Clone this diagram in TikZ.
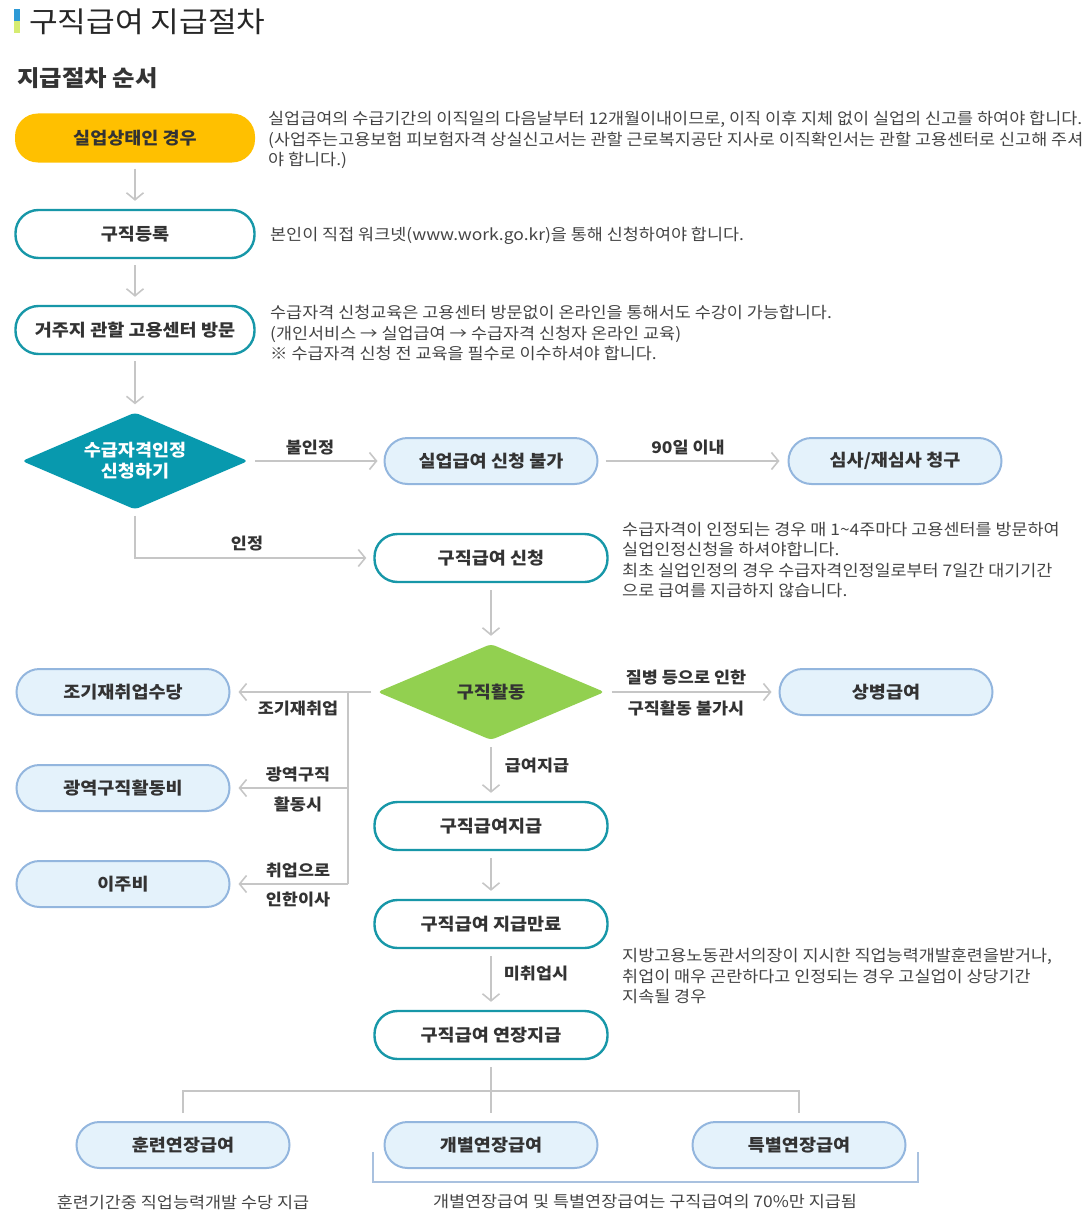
\documentclass[tikz,border=0pt]{standalone}
\usepackage{fontspec}
\setmainfont{Noto Sans CJK KR}[FakeStretch=1.09]
\usetikzlibrary{arrows.meta,shapes.geometric}
\definecolor{teal1}{HTML}{1797A8}
\definecolor{tealfill}{HTML}{0899AE}
\definecolor{yel}{HTML}{FFC000}
\definecolor{lbfill}{HTML}{E4F2FB}
\definecolor{lbdraw}{HTML}{93B6DE}
\definecolor{grn}{HTML}{92D050}
\definecolor{arr}{HTML}{C6C6C6}
\definecolor{txt}{HTML}{333333}
\definecolor{notec}{HTML}{444444}
\definecolor{barblue}{HTML}{2E9AD6}
\definecolor{bargreen}{HTML}{D6EC72}
\definecolor{brk}{HTML}{A9C1DF}
\begin{document}
\begin{tikzpicture}[x=1pt,y=-1pt,
  pill/.style={rectangle, rounded corners=23pt, minimum width=239pt, minimum height=48pt, inner sep=0pt, font=\fontsize{17}{20}\selectfont\bfseries, text=txt},
  wpill/.style={pill, draw=teal1, line width=2.4pt, fill=white},
  bpill/.style={pill, draw=lbdraw, line width=2pt, fill=lbfill, minimum width=213pt, minimum height=46pt},
  dia/.style={diamond, aspect=2.33, rounded corners=4pt, inner sep=0pt, minimum width=226pt, minimum height=97pt, align=center, font=\fontsize{17}{21}\selectfont\bfseries},
  gline/.style={draw=arr, line width=2pt},
  flow/.style={gline, -{Straight Barb[length=7pt,width=17pt,line width=1.6pt]}},
  notetext/.style={font=\fontsize{16}{20.5}\selectfont, text=notec, align=left, inner sep=0pt, anchor=west},
  elab/.style={font=\fontsize{16}{20}\selectfont\bfseries, text=txt, inner sep=0pt},
  captxt/.style={font=\fontsize{16}{20}\selectfont, text=notec, inner sep=0pt}
]
\useasboundingbox (0,0) rectangle (1083,1228);
% title
\fill[barblue] (14,9) rectangle (20,21);
\fill[bargreen] (14,21) rectangle (20,33);
\node[anchor=west, inner sep=0pt, font=\fontsize{28.6}{32}\selectfont, text=black!85] (title) at (29,22) {구직급여 지급절차};
\node[anchor=west, inner sep=0pt, font=\fontsize{22.4}{26}\selectfont\bfseries, text=txt] (sub) at (17,78) {지급절차 순서};

% main column
\node[pill, fill=yel, minimum width=240pt, minimum height=49pt] (n1) at (135,138) {실업상태인 경우};
\node[wpill] (n2) at (135,234) {구직등록};
\node[wpill] (n3) at (135,330) {거주지 관할 고용센터 방문};
\node[dia, fill=tealfill, text=white] (d1) at (135,461) {수급자격인정\\신청하기};
\node[bpill] (n4) at (491,461) {실업급여 신청 불가};
\node[bpill] (n5) at (895,461) {심사/재심사 청구};
\node[wpill, minimum width=233pt] (n6) at (491,558) {구직급여 신청};
\node[dia, fill=grn, text=txt, minimum width=227pt, minimum height=96pt] (d2) at (491,692) {구직활동};
\node[bpill] (n7) at (886,692) {상병급여};
\node[bpill] (n8) at (123,692) {조기재취업수당};
\node[bpill] (n9) at (123,788) {광역구직활동비};
\node[bpill] (n10) at (123,884) {이주비};
\node[wpill, minimum width=233pt] (n11) at (491,826) {구직급여지급};
\node[wpill, minimum width=233pt] (n12) at (491,924) {구직급여 지급만료};
\node[wpill, minimum width=233pt] (n13) at (491,1035) {구직급여 연장지급};
\node[bpill] (n14) at (183,1145) {훈련연장급여};
\node[bpill] (n15) at (491,1145) {개별연장급여};
\node[bpill] (n16) at (799,1145) {특별연장급여};

% connectors
\draw[flow, shorten <=6pt, shorten >=8pt] (n1) -- (n2);
\draw[flow, shorten <=6pt, shorten >=8pt] (n2) -- (n3);
\draw[flow, shorten <=6pt, shorten >=8pt] (n3) -- (d1);
\draw[flow, shorten <=7pt, shorten >=6pt] (d1) -- (n4);
\draw[flow, shorten <=7pt, shorten >=8pt] (n4) -- (n5);
\draw[flow, shorten >=7pt] ([yshift=-6pt]d1.south) |- (n6.west);
\draw[flow, shorten <=7pt, shorten >=8pt] (n6) -- (d2);
\draw[flow, shorten <=7pt, shorten >=7pt] (d2) -- (n7);
\coordinate (j) at (348,692);
\draw[flow, shorten >=8pt] ([xshift=-6pt]d2.west) -- (n8.east);
\draw[gline] (j) -- (j |- n10);
\draw[flow, shorten >=8pt] (j |- n9) -- (n9.east);
\draw[flow, shorten >=8pt] (j |- n10) -- (n10.east);
\draw[flow, shorten <=7pt, shorten >=8pt] (d2) -- (n11);
\draw[flow, shorten <=7pt, shorten >=8pt] (n11) -- (n12);
\draw[flow, shorten <=7pt, shorten >=8pt] (n12) -- (n13);
\coordinate (tb) at (491,1091);
\draw[gline] ([yshift=-7pt]n13.south) -- ([yshift=8pt]n15.north);
\draw[gline] ([yshift=8pt]n14.north) |- (tb) -| ([yshift=8pt]n16.north);
\draw[brk, line width=1.2pt] (373,1152) |- (918,1182) -- (918,1152);

% edge labels
\node[elab] (l1) at (310,448) {불인정};
\node[elab] (l2) at (688,448) {90일 이내};
\node[elab] (l3) at (247,544) {인정};
\node[elab] (l4) at (686,678) {질병 등으로 인한};
\node[elab] (l5) at (686,708) {구직활동 불가시};
\node[elab] (l6) at (298,708) {조기재취업};
\node[elab] (l7) at (298,774) {광역구직};
\node[elab] (l8) at (298,804) {활동시};
\node[elab] (l9) at (298,870) {취업으로};
\node[elab] (l10) at (298,900) {인한이사};
\node[elab] (l11) at (537,766) {급여지급};
\node[elab] (l12) at (536,974) {미취업시};

% notes
\node[notetext] (t1) at (268,140) {실업급여의 수급기간의 이직일의 다음날부터 12개월이내이므로, 이직 이후 지체 없이 실업의 신고를 하여야 합니다.\\(사업주는고용보험 피보험자격 상실신고서는 관할 근로복지공단 지사로 이직확인서는 관할 고용센터로 신고해 주셔\\야 합니다.)};
\node[notetext] (t2) at (270,236) {본인이 직접 워크넷(www.work.go.kr)을 통해 신청하여야 합니다.};
\node[notetext] (t3) at (270,333) {수급자격 신청교육은 고용센터 방문없이 온라인을 통해서도 수강이 가능합니다.\\(개인서비스 → 실업급여 → 수급자격 신청자 온라인 교육)\\※ 수급자격 신청 전 교육을 필수로 이수하셔야 합니다.};
\node[notetext] (t4) at (622,560) {수급자격이 인정되는 경우 매 1\textasciitilde4주마다 고용센터를 방문하여\\실업인정신청을 하셔야합니다.\\최초 실업인정의 경우 수급자격인정일로부터 7일간 대기기간\\으로 급여를 지급하지 않습니다.};
\node[notetext] (t5) at (622,976) {지방고용노동관서의장이 지시한 직업능력개발훈련을받거나,\\취업이 매우 곤란하다고 인정되는 경우 고실업이 상당기간\\지속될 경우};
\node[captxt] (c1) at (183,1202) {훈련기간중 직업능력개발 수당 지급};
\node[captxt] (c2) at (645,1202) {개별연장급여 및 특별연장급여는 구직급여의 70\%만 지급됨};
\end{tikzpicture}
\end{document}
